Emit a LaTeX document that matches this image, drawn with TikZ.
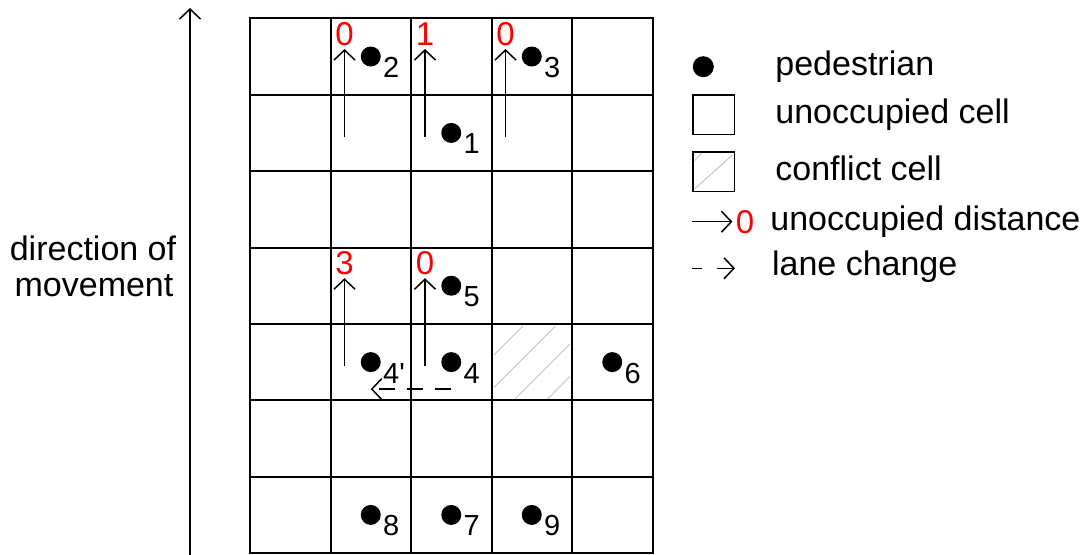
\documentclass[tikz,border=0pt]{standalone}
\usepackage{fontspec}
\setmainfont{Liberation Sans}
\usetikzlibrary{arrows.meta,positioning,calc}
\definecolor{distred}{HTML}{FF0000}
\definecolor{hatchgray}{HTML}{C4C4C4}

\begin{document}
\begin{tikzpicture}[x=0.5pt,y=-0.5pt,
      cellline/.style={line width=1pt,line cap=rect},
      ped/.style={circle,fill=black,inner sep=0pt,minimum size=10pt},
      pedno/.style={anchor=base west,inner sep=0pt,font=\fontsize{14.5}{17}\selectfont},
      distno/.style={text=distred,inner sep=1.5pt,font=\fontsize{16.5}{19}\selectfont},
      openarr/.style={-{Straight Barb[length=5pt,width=10.5pt]},line width=0.75pt},
      lane/.style={openarr,dash pattern=on 8pt off 6pt},
      hatch/.style={draw=hatchgray,line width=0.5pt},
      legtext/.style={anchor=base west,inner sep=0pt,font=\fontsize{17}{20}\selectfont},
      legbox/.style={draw,line width=0.8pt,minimum width=20.8pt,minimum height=19.6pt,inner sep=0pt}]
    \useasboundingbox (0,0) rectangle (1087,554);

    % cells (5 lanes x 7 rows)
    \foreach \i in {0,...,5}
      \draw[cellline] (250+\i*80.5,18.3) -- (250+\i*80.5,553);
    \foreach \j in {0,...,7}
      \draw[cellline] (250,18.3+\j*76.4) -- (652.5,18.3+\j*76.4);

    % conflict cell
    \begin{scope}
      \clip (494,326) rectangle (570,398.5);
      \foreach \k in {849,881.5,914,946.5}
        \draw[hatch] (\k-420,420) -- (\k-300,300);
    \end{scope}

    % pedestrians
    \foreach \name/\c/\r/\lab in {p1/3/2/1, p2/2/1/2, p3/4/1/3, p5/3/4/5, p4b/2/5/{4\textquotesingle},
        p4/3/5/4, p6/5/5/6, p8/2/7/8, p7/3/7/7, p9/4/7/9} {
      \node[ped] (\name) at (250+\c*80.5-40.25, 18.3+\r*76.4-38.2) {};
      \node[pedno] (\name-no) at ([shift={(12,21)}]\name.center) {\lab};
    }

    % unoccupied distances
    \foreach \name/\c/\r/\d in {a2/2/2/0, a3/3/2/1, a4/4/2/0, a5/2/5/3, a6/3/5/0} {
      \coordinate (\name-s) at (250+\c*80.5-66.5, 18.3+\r*76.4-34.4);
      \node[distno,anchor=south] (\name-d) at (250+\c*80.5-66.5, 18.3+\r*76.4-122.1) {\d};
      \draw[openarr] (\name-s) -- (\name-d);
    }

    % lane change
    \coordinate (lane-s) at ($(p4)+(0,27)$);
    \coordinate (lane-e) at ($(p4b)+(0,27)$);
    \draw[lane] (lane-s) -- (lane-e);

    % direction of movement
    \coordinate (dir-s) at (190,556);
    \coordinate (dir-e) at (190,8);
    \draw[openarr] (dir-s) -- (dir-e);
    \node[anchor=base,inner sep=0pt,font=\fontsize{17}{20}\selectfont] (dir-t1) at (93,260) {direction of};
    \node[anchor=base,inner sep=0pt,font=\fontsize{17}{20}\selectfont] (dir-t2) at (94,296.7) {movement};

    % legend
    \node[ped,minimum size=10.5pt] (leg-ped) at (703.3,66.7) {};
    \node[legtext] (leg-ped-t) at (775,75) {pedestrian};
    \node[legbox] (leg-cell) at (713.5,114.7) {};
    \node[legtext] (leg-cell-t) at (775,123.3) {unoccupied cell};
    \draw[hatch] (695,188.5) -- (732.5,155);
    \draw[hatch] (694.5,160.5) -- (701.5,153.5);
    \node[legbox] (leg-conf) at (713.5,171.7) {};
    \node[legtext] (leg-conf-t) at (775,180) {conflict cell};
    \coordinate (leg-dist-s) at (692,221.7);
    \node[distno] (leg-dist-d) at (745,221.7) {0};
    \draw[openarr] (leg-dist-s) -- (leg-dist-d);
    \node[legtext] (leg-dist-t) at (770,230) {unoccupied distance};
    \coordinate (leg-lane-s) at (691.7,268.3);
    \coordinate (leg-lane-e) at (735,268.3);
    \draw[openarr,dash pattern=on 5pt off 7.5pt on 10pt off 10pt] (leg-lane-s) -- (leg-lane-e);
    \node[legtext] (leg-lane-t) at (771.7,275) {lane change};
  \end{tikzpicture}
\end{document}
